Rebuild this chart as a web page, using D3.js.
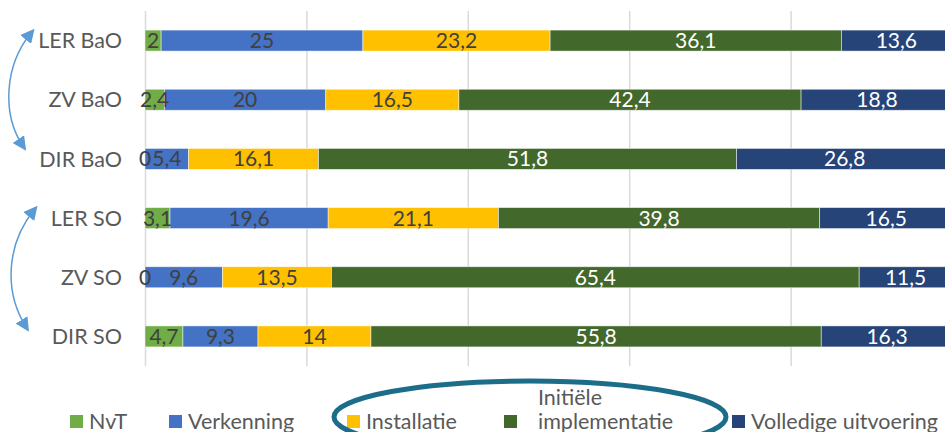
<!DOCTYPE html>
<html>
<head>
<meta charset="utf-8">
<script src="https://cdn.jsdelivr.net/npm/d3@7"></script>
<style>
  body { margin: 0; background: #fff; }
  text { font-family: Lato, "Open Sans", sans-serif; }
  .grid line { stroke: #d9d9d9; stroke-width: 1.5; }
  .grid path { display: none; }
</style>
</head>
<body>
<svg id="chart" width="945" height="432"></svg>
<script>
// data
var categories = ['LER BaO', 'ZV BaO', 'DIR BaO', 'LER SO', 'ZV SO', 'DIR SO'];
var seriesNames = ['NvT', 'Verkenning', 'Installatie', 'Initiële implementatie', 'Volledige uitvoering'];
var nvt = [2, 2.4, 0, 3.1, 0, 4.7];
var verkenning = [25, 20, 5.4, 19.6, 9.6, 9.3];
var installatie = [23.2, 16.5, 16.1, 21.1, 13.5, 14];
var initiele = [36.1, 42.4, 51.8, 39.8, 65.4, 55.8];
var volledige = [13.6, 18.8, 26.8, 16.5, 11.5, 16.3];
var xTicks = [0, 20, 40, 60, 80, 100];

var colors = ['#70ad47', '#4472c4', '#ffc000', '#43682b', '#264478'];
var labelColors = ['#404040', '#404040', '#404040', '#ffffff', '#ffffff'];

var svg = d3.select('#chart');

var plotLeft = 145, plotTop = 11, plotW = 807, plotH = 355;

var rows = categories.map(function(c, i) {
  return { cat: c, s0: nvt[i], s1: verkenning[i], s2: installatie[i], s3: initiele[i], s4: volledige[i] };
});
var keys = ['s0', 's1', 's2', 's3', 's4'];
var stacked = d3.stack().keys(keys)(rows);

var x = d3.scaleLinear().domain([0, 100]).range([plotLeft, plotLeft + plotW]);
var y = d3.scaleBand().domain(categories).range([plotTop, plotTop + plotH]).paddingInner(0.645).paddingOuter(0.3225);

// gridlines
svg.append('g')
  .attr('class', 'grid')
  .attr('transform', 'translate(0,' + plotTop + ')')
  .call(d3.axisBottom(x).tickValues(xTicks).tickSize(plotH).tickFormat(''));

// bars
var layer = svg.selectAll('.layer')
  .data(stacked)
  .enter().append('g')
  .attr('class', 'layer')
  .attr('fill', function(d, i) { return colors[i]; });

layer.selectAll('rect')
  .data(function(d) { return d; })
  .enter().append('rect')
  .attr('x', function(d) { return x(d[0]); })
  .attr('y', function(d) { return y(d.data.cat); })
  .attr('width', function(d) { return x(d[1]) - x(d[0]); })
  .attr('height', y.bandwidth())
  .attr('stroke', '#ffffff')
  .attr('stroke-opacity', 0.6)
  .attr('stroke-width', 0.8);

// value labels
stacked.forEach(function(s, si) {
  svg.append('g').selectAll('text')
    .data(s)
    .enter().append('text')
    .attr('x', function(d) { return x((d[0] + d[1]) / 2); })
    .attr('y', function(d) { return y(d.data.cat) + y.bandwidth() / 2; })
    .attr('dy', '0.36em')
    .attr('text-anchor', 'middle')
    .attr('fill', labelColors[si])
    .style('font-size', '21px')
    .text(function(d) { return String(+(d[1] - d[0]).toFixed(1)).replace('.', ','); });
});

// category labels
svg.append('g').selectAll('text')
  .data(categories)
  .enter().append('text')
  .attr('x', 122)
  .attr('y', function(d) { return y(d) + y.bandwidth() / 2; })
  .attr('dy', '0.36em')
  .attr('text-anchor', 'end')
  .attr('fill', '#595959')
  .style('font-size', '21.5px')
  .text(function(d) { return d; });

// legend
var legendX = [70, 169, 347, 504, 732];
var legend = svg.append('g');
seriesNames.forEach(function(name, i) {
  var g = legend.append('g').attr('transform', 'translate(' + legendX[i] + ',0)');
  g.append('rect').attr('x', 0).attr('y', 415).attr('width', 13).attr('height', 13).attr('fill', colors[i]);
  if (name === 'Initiële implementatie') {
    g.append('text').attr('x', 34).attr('y', 405).attr('fill', '#595959').style('font-size', '21.5px').text('Initiële');
    g.append('text').attr('x', 34).attr('y', 429).attr('fill', '#595959').style('font-size', '21.5px').text('implementatie');
  } else {
    g.append('text').attr('x', 19).attr('y', 429).attr('fill', '#595959').style('font-size', '21.5px').text(name);
  }
});

// highlight ellipse
svg.append('ellipse')
  .attr('cx', 530).attr('cy', 417).attr('rx', 196).attr('ry', 36)
  .attr('fill', 'none').attr('stroke', '#1b6d8a').attr('stroke-width', 5);

// curved double arrows on the left
svg.append('defs').append('marker')
  .attr('id', 'head')
  .attr('viewBox', '0 0 10 10')
  .attr('refX', 6).attr('refY', 5)
  .attr('markerWidth', 14).attr('markerHeight', 14)
  .attr('markerUnits', 'userSpaceOnUse')
  .attr('orient', 'auto-start-reverse')
  .append('path').attr('d', 'M0,0 L10,5 L0,10 z').attr('fill', '#5b9bd5');

['M 31,33 C 4,66 2,115 23,146', 'M 34,210 C 6,245 4,292 26,327'].forEach(function(p) {
  svg.append('path')
    .attr('d', p)
    .attr('fill', 'none')
    .attr('stroke', '#5b9bd5')
    .attr('stroke-width', 1.5)
    .attr('marker-start', 'url(#head)')
    .attr('marker-end', 'url(#head)');
});
</script>
</body>
</html>
